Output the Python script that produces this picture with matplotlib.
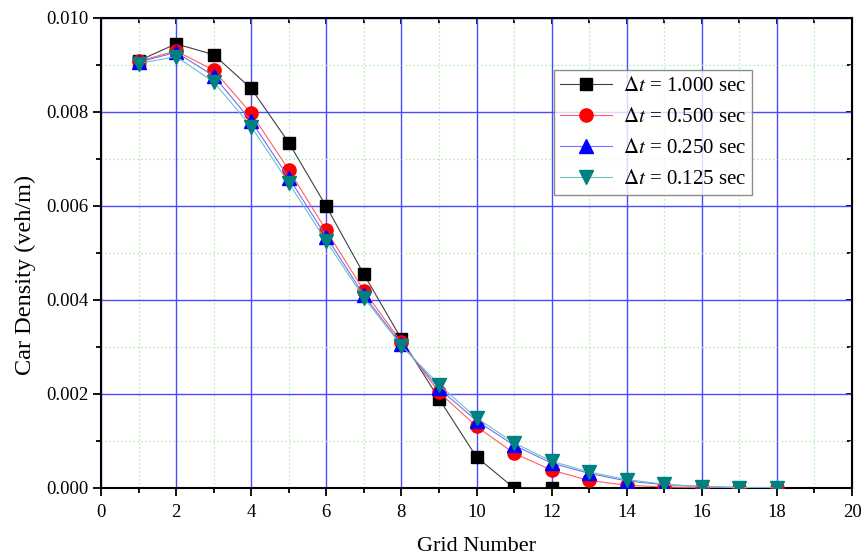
import matplotlib
matplotlib.use("Agg")
import matplotlib.pyplot as plt
from matplotlib.ticker import MultipleLocator, FormatStrFormatter

plt.rcParams["font.family"] = ["Liberation Serif", "DejaVu Serif"]
plt.rcParams["mathtext.fontset"] = "stix"

# data
grid = [1, 2, 3, 4, 5, 6, 7, 8, 9, 10, 11, 12, 13, 14, 15, 16, 17, 18]
dt_1000 = [0.00909, 0.00945, 0.00922, 0.00850, 0.00735, 0.00599, 0.00455,
           0.00317, 0.00190, 0.00066, 0.0, 0.0]
dt_0500 = [0.00908, 0.00930, 0.00889, 0.00797, 0.00677, 0.00548, 0.00420,
           0.00310, 0.00204, 0.00131, 0.00074, 0.00038, 0.00016, 0.00006,
           0.00002, 0.00001, 0.0, 0.0]
dt_0250 = [0.00906, 0.00927, 0.00877, 0.00781, 0.00660, 0.00535, 0.00410,
           0.00306, 0.00212, 0.00143, 0.00091, 0.00053, 0.00031, 0.00015,
           0.00007, 0.00003, 0.00001, 0.000005]
dt_0125 = [0.00903, 0.00918, 0.00864, 0.00769, 0.00649, 0.00525, 0.00405,
           0.00303, 0.00220, 0.00149, 0.00096, 0.00057, 0.00034, 0.00018,
           0.00008, 0.00003, 0.00001, 0.000005]
labels = ["$\\Delta t$ = 1.000 sec", "$\\Delta t$ = 0.500 sec",
          "$\\Delta t$ = 0.250 sec", "$\\Delta t$ = 0.125 sec"]

fig = plt.figure(figsize=(8.66, 5.58), dpi=100)
ax = fig.add_axes([101 / 866, 1 - 488 / 558, 751 / 866, 470 / 558])

series = [
    (dt_1000, "#404040", "s", "black", 8),
    (dt_0500, "#ff6060", "o", "red", 9.5),
    (dt_0250, "#7070ff", "^", "blue", 10),
    (dt_0125, "#70c0c0", "v", "#008080", 10),
]
for (vals, lc, mk, mc, ms), lab in zip(series, labels):
    ax.plot(grid[:len(vals)], vals, color=lc, lw=0.8, marker=mk, ms=ms,
            markerfacecolor=mc, markeredgecolor=mc, label=lab, zorder=3)

ax.set_xlim(0, 20)
ax.set_ylim(0, 0.010)
ax.xaxis.set_major_locator(MultipleLocator(2))
ax.xaxis.set_minor_locator(MultipleLocator(1))
ax.yaxis.set_major_locator(MultipleLocator(0.002))
ax.yaxis.set_minor_locator(MultipleLocator(0.001))
ax.yaxis.set_major_formatter(FormatStrFormatter("%.3f"))

ax.grid(which="major", color="#4a4aff", lw=1.0, zorder=0)
ax.grid(which="minor", color="#a8eca8", lw=0.9, ls=(0, (1.2, 2.0)), zorder=0)
ax.set_axisbelow(True)

for sp in ax.spines.values():
    sp.set_linewidth(1.5)
ax.tick_params(which="both", direction="out", width=1.3, labelsize=13.5)
ax.tick_params(which="major", length=5.8)
ax.tick_params(which="minor", length=3.5)
ax.tick_params(axis="x", pad=6)

# mirrored inward ticks on top and right
axt = ax.secondary_xaxis("top")
axt.xaxis.set_major_locator(MultipleLocator(2))
axt.xaxis.set_minor_locator(MultipleLocator(1))
axt.tick_params(which="both", direction="in", width=1.3, labeltop=False)
axt.tick_params(which="major", length=4)
axt.tick_params(which="minor", length=3.5)
axr = ax.secondary_yaxis("right")
axr.yaxis.set_major_locator(MultipleLocator(0.002))
axr.yaxis.set_minor_locator(MultipleLocator(0.001))
axr.tick_params(which="both", direction="in", width=1.3, labelright=False)
axr.tick_params(which="major", length=4)
axr.tick_params(which="minor", length=3.5)

ax.set_xlabel("Grid Number", fontsize=16)
ax.set_ylabel("Car Density (veh/m)", fontsize=17.5)
ax.xaxis.set_label_coords(0.5, -0.105)
ax.yaxis.set_label_coords(-0.087, 0.453)

leg = ax.legend(loc="upper left", bbox_to_anchor=(0.603, 0.889), fontsize=15,
                frameon=True, fancybox=False, edgecolor="#707070",
                handlelength=2.5, borderpad=0.3, labelspacing=0.55,
                handletextpad=0.5, borderaxespad=0)
leg.get_frame().set_linewidth(1.0)

fig.savefig("out.png", dpi=100)
